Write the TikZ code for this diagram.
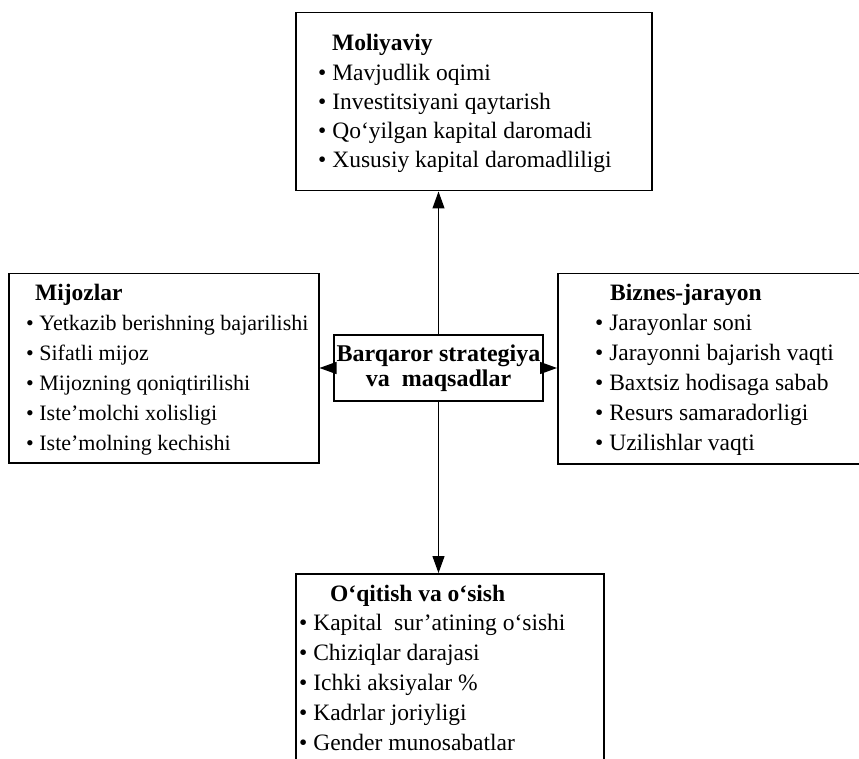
\documentclass[tikz,border=0pt]{standalone}
\usepackage{fontspec}
\setmainfont{Liberation Serif}
\usetikzlibrary{arrows.meta}
\begin{document}
\begin{tikzpicture}[x=1pt,y=-1pt,
  box/.style={draw,line width=1.5pt,anchor=north west,inner sep=0pt},
  txt/.style={anchor=base west,inner sep=0pt,font=\fontsize{23.5}{28}\selectfont},
  txts/.style={anchor=base west,inner sep=0pt,font=\fontsize{22}{28}\selectfont},
  ttl/.style={anchor=base west,inner sep=0pt,font=\fontsize{23.5}{28}\selectfont\bfseries},
  arr/.style={line width=1.2pt,-{Triangle[length=17pt,width=12pt]}}]
\useasboundingbox (0,0) rectangle (859,759);
\clip (0,0) rectangle (859,759);
% boxes
\node[box,minimum width=356,minimum height=178] (fin) at (295,12) {};
\node[box,minimum width=310,minimum height=189] (cus) at (8,273) {};
\node[box,minimum width=305,minimum height=190] (biz) at (557,273) {};
\node[box,minimum width=308,minimum height=200] (lrn) at (295,573) {};
\node[box,minimum width=209,minimum height=66,anchor=center,align=center,
      font=\fontsize{24}{25}\selectfont\bfseries] (ctr) at (438.5,368)
      {Barqaror strategiya\\va\ \ maqsadlar};
% texts: top
\node[ttl] (fint) at (332,51) {Moliyaviy};
\foreach \t [count=\i] in {Mavjudlik oqimi,Investitsiyani qaytarish,Qo‘yilgan kapital daromadi,Xususiy kapital daromadliligi}
  \node[txt] (fin\i) at (318,{51+29.2*\i}) {\textbullet\ \t};
% left
\node[ttl] (cust) at (35,301) {Mijozlar};
\foreach \t [count=\i] in {Yetkazib berishning bajarilishi,Sifatli mijoz,Mijozning qoniqtirilishi,Iste’molchi xolisligi,Iste’molning kechishi}
  \node[txts] (cus\i) at (26,{301+29.8*\i}) {\textbullet\ \t};
% right
\node[ttl] (bizt) at (610,301) {Biznes-jarayon};
\foreach \t [count=\i] in {Jarayonlar soni,Jarayonni bajarish vaqti,Baxtsiz hodisaga sabab,Resurs samaradorligi,Uzilishlar vaqti}
  \node[txt] (biz\i) at (595,{301+29.8*\i}) {\textbullet\ \t};
% bottom
\node[ttl] (lrnt) at (330,601) {O‘qitish va o‘sish};
\foreach \t [count=\i] in {Kapital\ \ sur’atining o‘sishi,Chiziqlar darajasi,Ichki aksiyalar \%,Kadrlar joriyligi,Gender munosabatlar}
  \node[txt] (lrn\i) at (299,{601+29.8*\i}) {\textbullet\ \t};
% arrows
\draw[arr] (ctr.north) -- (ctr.north |- fin.south);
\draw[arr] (ctr.south) -- (ctr.south |- lrn.north);
\draw[arr] (ctr.west) -- (ctr.west -| cus.east);
\draw[arr] (ctr.east) -- (ctr.east -| biz.west);
\end{tikzpicture}
\end{document}
